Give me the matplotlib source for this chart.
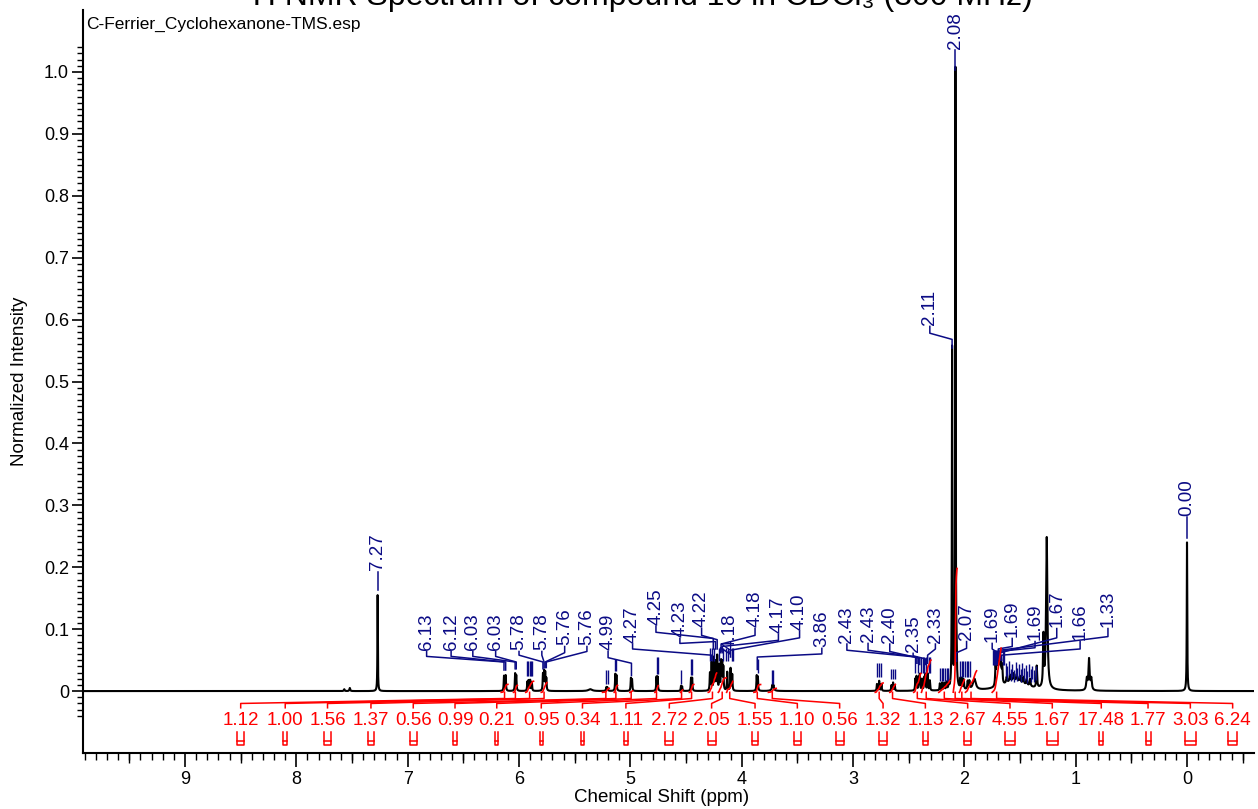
import matplotlib.pyplot as plt
import numpy as np

plt.rcParams['font.family'] = ['Liberation Sans', 'DejaVu Sans']

# spectrum lines: position (ppm), height, half width (ppm)
pk_ppm = [7.57, 7.52, 7.27,
          6.135, 6.120, 6.035, 6.025, 5.925, 5.915, 5.900, 5.885,
          5.785, 5.775, 5.765, 5.755, 5.36, 5.215, 5.205, 5.135, 5.125,
          4.995, 4.985, 4.765, 4.755, 4.545, 4.535, 4.455, 4.445,
          4.285, 4.27, 4.25, 4.235, 4.22, 4.20, 4.185, 4.175, 4.165, 4.13, 4.10, 4.085,
          3.865, 3.855, 3.725, 3.715, 3.72,
          2.785, 2.765, 2.745, 2.655, 2.64, 2.625,
          2.44, 2.43, 2.41, 2.40, 2.38, 2.36, 2.35, 2.33, 2.31,
          2.22, 2.20, 2.18, 2.16, 2.14, 2.11, 2.08, 2.07,
          2.035, 2.02, 2.005, 1.97, 1.955, 1.91,
          1.72, 1.71, 1.70, 1.69, 1.68, 1.67, 1.66, 1.55,
          1.62, 1.59, 1.56, 1.53, 1.50, 1.47, 1.44, 1.41,
          1.35, 1.29, 1.26, 0.90, 0.88, 0.86, 0.00]
pk_h = [0.003, 0.005, 0.155,
        0.024, 0.025, 0.027, 0.024, 0.014, 0.016, 0.017, 0.014,
        0.026, 0.030, 0.028, 0.019, 0.003, 0.006, 0.005, 0.026, 0.024,
        0.020, 0.018, 0.022, 0.022, 0.008, 0.007, 0.020, 0.020,
        0.028, 0.045, 0.052, 0.045, 0.055, 0.040, 0.045, 0.042, 0.036, 0.030, 0.036, 0.026,
        0.024, 0.022, 0.006, 0.006, 0.004,
        0.011, 0.016, 0.011, 0.009, 0.013, 0.009,
        0.018, 0.022, 0.020, 0.025, 0.018, 0.020, 0.025, 0.027, 0.016,
        0.011, 0.012, 0.011, 0.012, 0.010, 0.55, 1.0, 0.04,
        0.016, 0.017, 0.015, 0.013, 0.013, 0.018,
        0.030, 0.035, 0.040, 0.042, 0.038, 0.032, 0.028, 0.016,
        0.010, 0.011, 0.012, 0.011, 0.010, 0.011, 0.010, 0.012,
        0.035, 0.080, 0.245, 0.018, 0.050, 0.018, 0.24]
pk_w = [0.004, 0.004, 0.0022,
        0.003, 0.003, 0.003, 0.003, 0.003, 0.003, 0.003, 0.003,
        0.003, 0.003, 0.003, 0.003, 0.02, 0.004, 0.004, 0.003, 0.003,
        0.003, 0.003, 0.003, 0.003, 0.003, 0.003, 0.003, 0.003,
        0.003, 0.003, 0.003, 0.003, 0.003, 0.003, 0.003, 0.003, 0.003, 0.003, 0.003, 0.003,
        0.003, 0.003, 0.003, 0.003, 0.015,
        0.003, 0.003, 0.003, 0.003, 0.003, 0.003,
        0.003, 0.003, 0.003, 0.003, 0.003, 0.003, 0.003, 0.003, 0.003,
        0.003, 0.003, 0.003, 0.003, 0.003, 0.0025, 0.0025, 0.003,
        0.003, 0.003, 0.003, 0.004, 0.004, 0.015,
        0.004, 0.004, 0.004, 0.004, 0.004, 0.004, 0.004, 0.12,
        0.005, 0.005, 0.005, 0.005, 0.005, 0.005, 0.005, 0.005,
        0.004, 0.004, 0.007, 0.006, 0.006, 0.006, 0.0025]

# labelled peak picks
pick_txt = ["7.27", "2.08", "0.00", "2.11",
            "6.13", "6.12", "6.03", "6.03", "5.78", "5.78", "5.76", "5.76",
            "4.99", "4.27", "4.25", "4.23", "4.22", "4.18", "4.18", "4.17", "4.10", "3.86",
            "2.43", "2.43", "2.40", "2.35", "2.33", "2.07",
            "1.69", "1.69", "1.69", "1.67", "1.66", "1.33"]
pick_ppm = [7.27, 2.08, 0.00, 2.11,
            6.135, 6.12, 6.035, 6.025, 5.785, 5.775, 5.765, 5.755,
            4.99, 4.27, 4.255, 4.235, 4.22, 4.19, 4.185, 4.175, 4.10, 3.86,
            2.435, 2.425, 2.40, 2.35, 2.33, 2.07,
            1.70, 1.695, 1.69, 1.675, 1.665, 1.68]
lab_ppm = [7.27, 2.08, 0.00, 2.31,
           6.83, 6.61, 6.415, 6.21, 6.00, 5.795, 5.59, 5.39,
           5.20, 4.98, 4.77, 4.555, 4.36, 4.105, 3.88, 3.67, 3.48, 3.28,
           3.055, 2.865, 2.67, 2.46, 2.26, 1.98,
           1.75, 1.57, 1.365, 1.17, 0.96, 0.71]
lab_y = [0.195, 1.037, 0.283, 0.591,
         0.066, 0.066, 0.066, 0.066, 0.066, 0.066, 0.074, 0.074,
         0.066, 0.078, 0.107, 0.087, 0.103, 0.066, 0.103, 0.094, 0.099, 0.071,
         0.078, 0.079, 0.078, 0.063, 0.078, 0.082,
         0.079, 0.087, 0.082, 0.103, 0.082, 0.103]
knee1_y = [0.187, 1.032, 0.279, 0.578,
           0.056, 0.056, 0.056, 0.056, 0.058, 0.058, 0.062, 0.064,
           0.054, 0.068, 0.095, 0.077, 0.090, 0.060, 0.090, 0.082, 0.086, 0.060,
           0.066, 0.066, 0.064, 0.057, 0.068, 0.069,
           0.068, 0.072, 0.070, 0.086, 0.068, 0.088]
knee2_y = [0.187, 1.032, 0.279, 0.568,
           0.047, 0.047, 0.047, 0.047, 0.047, 0.047, 0.047, 0.047,
           0.045, 0.058, 0.085, 0.080, 0.083, 0.070, 0.076, 0.072, 0.066, 0.055,
           0.055, 0.055, 0.053, 0.052, 0.058, 0.062,
           0.062, 0.068, 0.064, 0.062, 0.058, 0.066]
tip_y = [0.163, 1.003, 0.247, 0.554,
         0.034, 0.034, 0.036, 0.036, 0.036, 0.038, 0.038, 0.038,
         0.025, 0.050, 0.068, 0.068, 0.068, 0.062, 0.064, 0.062, 0.055, 0.035,
         0.045, 0.045, 0.043, 0.043, 0.045, 0.048,
         0.052, 0.052, 0.052, 0.050, 0.050, 0.055]

# unlabelled pick marks
mark_ppm = [5.925, 5.915, 5.905, 5.895, 5.885, 5.215, 5.205, 5.135, 5.125,
            4.765, 4.755, 4.545, 4.455, 4.445,
            4.285, 4.265, 4.245, 4.205, 4.165, 4.145, 4.125, 4.09, 4.08,
            3.855, 3.725, 3.715, 2.785, 2.765, 2.745, 2.655, 2.64, 2.625,
            2.445, 2.415, 2.39, 2.37, 2.36, 2.34, 2.32, 2.31,
            2.22, 2.205, 2.19, 2.175, 2.16, 2.145,
            2.04, 2.025, 2.01, 1.995, 1.98, 1.965, 1.95,
            1.745, 1.735, 1.725, 1.715, 1.705, 1.655, 1.645,
            1.63, 1.615, 1.60, 1.585, 1.57, 1.555, 1.54, 1.525, 1.51, 1.495,
            1.48, 1.465, 1.45, 1.435, 1.42, 1.405, 1.39, 1.375, 1.36]
mark_lo = [0.025] * 5 + [0.012] * 2 + [0.032] * 2 + [0.027] * 2 + [0.012] + [0.026] * 2 \
    + [0.048] * 9 + [0.030] + [0.012] * 2 + [0.022] * 3 + [0.020] * 3 \
    + [0.030] * 8 + [0.016] * 6 + [0.022] * 7 + [0.042] * 7 \
    + [0.024, 0.018, 0.026, 0.016, 0.022, 0.014, 0.025, 0.017, 0.021, 0.015,
       0.024, 0.016, 0.020, 0.013, 0.022, 0.015, 0.019, 0.014, 0.018]
mark_hi = [0.048] * 5 + [0.034] * 2 + [0.052] * 2 + [0.055] * 2 + [0.034] + [0.052] * 2 \
    + [0.070] * 9 + [0.052] + [0.034] * 2 + [0.045] * 3 + [0.036] * 3 \
    + [0.055] * 8 + [0.038] * 6 + [0.048] * 7 + [0.066] * 7 \
    + [0.046, 0.040, 0.048, 0.036, 0.044, 0.034, 0.047, 0.038, 0.043, 0.035,
       0.046, 0.037, 0.042, 0.033, 0.044, 0.036, 0.041, 0.034, 0.040]

# integrals
int_txt = ["1.12", "1.00", "1.56", "1.37", "0.56", "0.99", "0.21", "0.95", "0.34", "1.11",
           "2.72", "2.05", "1.55", "1.10", "0.56", "1.32", "1.13", "2.67", "4.55", "1.67",
           "17.48", "1.77", "3.03", "6.24"]
int_from = [6.16, 6.05, 5.94, 5.80, 5.25, 5.145, 5.005, 4.78, 4.55, 4.47,
            4.30, 4.21, 4.135, 3.89, 3.76, 2.80, 2.67, 2.455, 2.385, 2.23,
            2.10, 2.045, 1.99, 1.75]
int_to = [6.10, 6.015, 5.87, 5.75, 5.19, 5.115, 4.98, 4.75, 4.53, 4.43,
          4.225, 4.14, 4.08, 3.83, 3.69, 2.73, 2.62, 2.39, 2.30, 2.13,
          2.065, 2.00, 1.89, 1.67]
int_lab = [8.50, 8.10, 7.72, 7.33, 6.95, 6.575, 6.20, 5.80, 5.43, 5.04,
           4.65, 4.27, 3.88, 3.50, 3.12, 2.73, 2.35, 1.97, 1.59, 1.21,
           0.77, 0.35, -0.03, -0.41]

navy = '#0b0b85'
red = '#ff0000'

x = np.linspace(10.0, -0.65, 60000)
y = np.zeros_like(x)
for p, h, w in zip(pk_ppm, pk_h, pk_w):
    y += h / (1 + ((x - p) / w) ** 2)

fig = plt.figure(figsize=(12.58, 8.09), dpi=100)
ax = fig.add_axes([83 / 1258, 56 / 809, 1171 / 1258, 743 / 809])

ax.plot(x, y, color='black', lw=1.5, zorder=3)

# peak labels and leaders
for t, pp, lp, ly, k1, k2, tp in zip(pick_txt, pick_ppm, lab_ppm, lab_y, knee1_y, knee2_y, tip_y):
    ax.plot([lp, lp, pp, pp], [ly - 0.002, k1, k2, tp], color=navy, lw=1.1, zorder=4)
    ax.text(lp, ly, t, rotation=90, ha='center', va='bottom', color=navy, fontsize=13.5)
ax.vlines(mark_ppm, mark_lo, mark_hi, color=navy, lw=1.0, zorder=4)

# integrals
scale = 0.2 / 17.48
for t, a, b, lp in zip(int_txt, int_from, int_to, int_lab):
    m = (x <= a) & (x >= b)
    c = np.cumsum(y[m])
    c = c / c[-1] * float(t) * scale
    ax.plot(x[m], c - 0.002, color=red, lw=1.2, zorder=5)
    mid = (a + b) / 2
    ax.plot([mid, mid, lp, lp], [-0.002, -0.012, -0.020, -0.027], color=red, lw=1.1)
    ax.text(lp, -0.047, t, ha='center', va='center', color=red, fontsize=13.5)
    hw = max(a - b, 0.025) / 2
    ax.plot([lp + hw, lp + hw, lp - hw, lp - hw], [-0.066, -0.087, -0.087, -0.066], color=red, lw=1.1)
    ax.plot([lp + hw, lp - hw], [-0.080, -0.080], color=red, lw=1.1)

ax.set_xlim((1187 - 83) / 111.33, (1187 - 1254) / 111.33)
ax.set_ylim(-0.1, 1.1)

ax.spines['top'].set_visible(False)
ax.spines['right'].set_visible(False)
ax.spines['left'].set_linewidth(1.5)
ax.spines['bottom'].set_linewidth(1.5)

ax.set_xticks(range(0, 10))
ax.set_xticks(np.arange(-5, 100) * 0.1, minor=True)
ax.set_yticks(np.arange(0, 11) * 0.1)
ax.set_yticklabels(['0'] + ['%.1f' % v for v in np.arange(1, 11) * 0.1])
ax.set_yticks(np.arange(-4, 105) * 0.01, minor=True)
ax.tick_params(axis='x', which='major', length=10, width=1.2, pad=3, labelsize=13)
ax.tick_params(axis='x', which='minor', length=5, width=1.0)
ax.tick_params(axis='y', which='major', length=8, width=1.2, pad=2, labelsize=13)
ax.tick_params(axis='y', which='minor', length=4, width=1.0)

# medium ticks at the half ppm marks
half = ax.secondary_xaxis('bottom')
half.set_xticks(np.arange(0, 10) - 0.5 + 1.0)
half.set_xticks(np.arange(-1, 10) + 0.5)
half.tick_params(length=7.5, width=1.0, labelbottom=False)
half.spines['bottom'].set_visible(False)

ax.set_xlabel('Chemical Shift (ppm)', fontsize=13.5)
ax.xaxis.set_label_coords(0.494, -0.048)
ax.set_ylabel('Normalized Intensity', fontsize=13.5)
ax.yaxis.set_label_coords(-0.047, 0.5)

ax.text(0.003, 0.981, 'C-Ferrier_Cyclohexanone-TMS.esp', transform=ax.transAxes,
        ha='left', va='center', fontsize=12.5)
fig.text(0.507, 0.9935, '¹H NMR Spectrum of compound 16 in CDCl₃ (300 MHz)',
         ha='center', va='baseline', fontsize=23)

fig.savefig('out.png', dpi=100)
